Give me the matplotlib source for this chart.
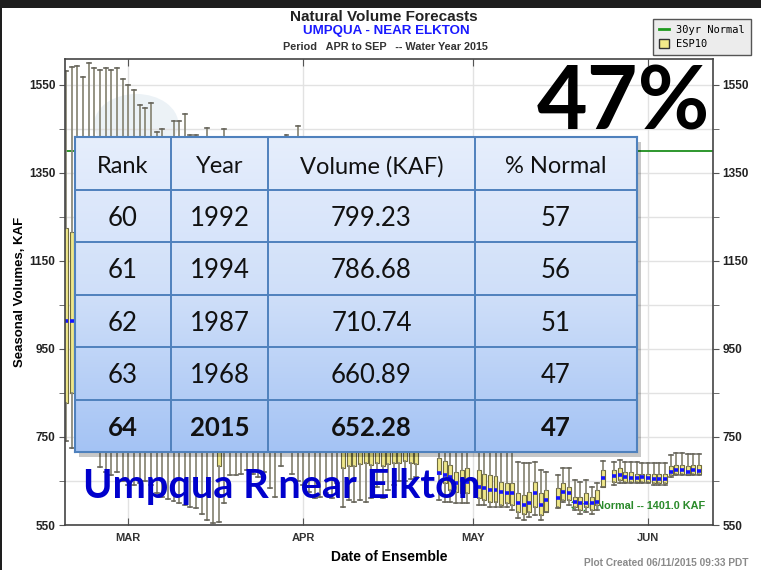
import numpy as np
import pandas as pd
import matplotlib
matplotlib.use('Agg')
import matplotlib.pyplot as plt
import matplotlib.dates as mdates
from matplotlib.lines import Line2D
from matplotlib.patches import Patch, Rectangle, Circle
from matplotlib.colors import LinearSegmentedColormap

# ESP10 daily ensemble forecasts (KAF), first box on 2015-02-18, None = no forecast that day
start_day = '2015-02-18'
hi = [1581, 1590, 1594, 1567, 1601, 1588, 1584, 1588, 1584, 1588,
      1563, 1550, 1539, 1505, 1498, 1508, 1444, 1449, 1425, 1467,
      1467, 1484, 1436, 1436, 1420, 1453, 1410, 1400, 1449, 1390,
      1380, 1370, 1360, 1350, 1340, 1330, 1320, 1300, 1290, 1436,
      1300, 1457, 1280, 1260, 1250, 1240, 1230, 1220, 1200, 1180,
      1160, 1140, 1120, 1100, 1080, 1060, 1040, 1020, 1000, 980,
      960, 940, 920, None, None, None, 900, 880, 860, 840,
      820, 800, None, 770, 760, 760, 750, 750, 740, 740,
      694, 690, 690, 694, 675, 671, None, 664, 679, 679,
      652, 648, 652, 637, 645, 696, None, 694, 698, 694,
      694, 694, 690, 690, 690, 690, 690, 709, 713, 713,
      711, 711, 711]
q3 = [1225, 1216, 1200, 1180, 1160, 1140, 1120, 1100, 1080, 1060,
      1040, 1020, 1000, 990, 980, 970, 960, 950, 940, 930,
      920, 910, 900, 890, 880, 870, 860, 850, 850, 845,
      840, 835, 830, 825, 820, 815, 810, 805, 800, 795,
      790, 785, 780, 775, 770, 765, 760, 755, 750, 745,
      745, 740, 740, 735, 735, 730, 730, 725, 725, 725,
      722, 722, 720, None, None, None, 702, 696, 686, 671,
      675, 679, None, 675, 667, 664, 661, 648, 645, 645,
      622, 618, 626, 648, 622, 630, None, 633, 645, 637,
      614, 614, 622, 614, 630, 675, None, 675, 679, 671,
      671, 667, 667, 667, 667, 667, 667, 683, 686, 686,
      683, 686, 686]
med = [1014, 1014, 1000, 990, 975, 960, 945, 930, 915, 900,
       885, 870, 860, 850, 840, 830, 820, 810, 800, 795,
       790, 785, 780, 775, 770, 765, 760, 755, 780, 775,
       772, 770, 768, 765, 762, 760, 758, 756, 755, 752,
       750, 748, 746, 744, 742, 740, 738, 736, 734, 735,
       735, 733, 732, 730, 730, 728, 728, 726, 725, 725,
       724, 723, 722, None, None, None, 669, 664, 660, 645,
       652, 648, None, 637, 633, 630, 630, 626, 622, 622,
       599, 595, 599, 622, 595, 607, None, 611, 626, 623,
       603, 601, 599, 599, 603, 656, None, 661, 664, 658,
       656, 656, 658, 656, 654, 654, 654, 671, 675, 676,
       671, 675, 673]
q1 = [827, 850, 845, 840, 830, 820, 810, 800, 790, 785,
      780, 775, 770, 765, 760, 755, 750, 748, 745, 742,
      740, 738, 735, 735, 732, 730, 728, 683, 725, 725,
      728, 730, 728, 725, 722, 722, 720, 720, 722, 725,
      725, 722, 720, 720, 720, 720, 720, 720, 720, 680,
      685, 683, 688, 690, 686, 690, 683, 688, 690, 692,
      695, 690, 688, None, None, None, 667, 645, 630, 626,
      622, 622, None, 611, 607, 603, 603, 595, 599, 595,
      580, 576, 580, 592, 573, 580, None, 592, 607, 607,
      592, 584, 592, 584, 595, 637, None, 648, 652, 648,
      648, 648, 648, 648, 645, 645, 645, 664, 667, 667,
      664, 667, 667]
lo = [740, 725, 735, 745, 750, 740, 682, 670, 664, 670,
      650, 640, 640, 645, 650, 640, 622, 614, 610, 605,
      600, 595, 591, 588, 575, 561, 555, 557, 600, 664,
      664, 667, 675, 667, 660, 671, 633, 614, 683, 720,
      667, 650, 640, 625, 611, 614, 622, 611, 645, 592,
      607, 603, 607, 603, 611, 637, 611, 630, 640, 650,
      650, 655, 660, None, None, None, 607, 603, 603, 600,
      599, 599, None, 595, 595, 592, 592, 590, 590, 584,
      565, 561, 569, 573, 561, 580, None, 588, 603, 595,
      584, 576, 580, 576, 584, 637, None, 641, 645, 645,
      645, 645, 645, 645, 642, 642, 642, 660, 664, 664,
      664, 664, 664]
normal = 1401.0

# ranking table
ranks = ['60', '61', '62', '63', '64']
years = ['1992', '1994', '1987', '1968', '2015']
volumes = ['799.23', '786.68', '710.74', '660.89', '652.28']
pct_normal = ['57', '56', '51', '47', '47']
headers = ['Rank', 'Year', 'Volume (KAF)', '% Normal']

W, H = 761, 570
fig = plt.figure(figsize=(W / 100, H / 100), dpi=100)
fig.patch.set_facecolor('#1e1e1e')
fig.patches.append(Rectangle((2 / W, 0), 1, 1 - 8 / H, transform=fig.transFigure,
                             facecolor='white', edgecolor='none', zorder=-1))

ax = fig.add_axes([65 / W, 1 - 525 / H, 648 / W, 466 / H])

# faint agency logo behind the data
ax.add_patch(Circle((0.11, 0.86), 0.065, transform=ax.transAxes, facecolor='#c9dbe8',
                    edgecolor='none', alpha=0.35, zorder=0.3))

dates = pd.date_range(start_day, periods=len(med))
stats, pos = [], []
for d, a, b, c, e, f in zip(mdates.date2num(dates), lo, q1, med, q3, hi):
    if c is None:
        continue
    stats.append(dict(whislo=a, q1=b, med=c, q3=e, whishi=f, fliers=[]))
    pos.append(d)

ax.bxp(stats, positions=pos, widths=0.7, capwidths=0.7, patch_artist=True,
       showfliers=False, manage_ticks=False,
       boxprops=dict(facecolor='#efe78a', edgecolor='#6f6b3e', linewidth=0.8),
       whiskerprops=dict(color='#8c8a7a', linewidth=1.3),
       capprops=dict(color='#66645a', linewidth=1.2),
       medianprops=dict(color='#1414ff', linewidth=2.6, solid_capstyle='butt'))

ax.axhline(normal, color='#1e8f1e', lw=1.3, zorder=1.5)
ax.text(0.988, 0.034, '30yr Normal -- %.1f KAF' % normal, transform=ax.transAxes,
        ha='right', va='baseline', color='#2a8a2a', fontsize=7.8, fontweight='bold',
        family='Liberation Sans', zorder=0.8)

ax.set_xlim(mdates.date2num(pd.Timestamp('2015-02-17 19:00')),
            mdates.date2num(pd.Timestamp('2015-06-12 12:00')))
ax.set_ylim(550, 1609)
ax.set_yticks(range(550, 1551, 200))
ax.set_yticks(range(650, 1551, 200), minor=True)
ax.xaxis.set_major_locator(mdates.MonthLocator())
ax.xaxis.set_major_formatter(plt.FuncFormatter(lambda v, p: mdates.num2date(v).strftime('%b').upper()))
ax.set_axisbelow(True)
ax.grid(axis='y', which='both', color='#e2e2e2', lw=1)
ax.grid(axis='x', which='major', color='#e2e2e2', lw=1)
ax.tick_params(axis='y', which='both', left=True, right=True, labelright=True,
               direction='out', length=4, color='#555', pad=3)
ax.tick_params(axis='x', top=True, direction='in', length=5, color='#555', pad=6)
for lab in ax.get_yticklabels():
    lab.set_fontweight('bold')
    lab.set_fontsize(8.5)
    lab.set_family('Liberation Sans')
    lab.set_color('#222')
for lab in ax.get_xticklabels():
    lab.set_fontweight('bold')
    lab.set_fontsize(8)
    lab.set_family('Liberation Sans')
    lab.set_color('#333')
for side in ax.spines.values():
    side.set_color('#444')
    side.set_linewidth(1.2)
ax.set_ylabel('Seasonal Volumes, KAF', fontsize=9.5, fontweight='bold',
              family='Liberation Sans', labelpad=2)
ax.set_xlabel('Date of Ensemble', fontsize=10, fontweight='bold',
              family='Liberation Sans', labelpad=5)

# titles
fig.text(384 / W, 1 - 17 / H, 'Natural Volume Forecasts', ha='center', va='center',
         fontsize=11, fontweight='bold', family='Liberation Sans', color='#222')
fig.text(386 / W, 1 - 31 / H, 'UMPQUA - NEAR ELKTON', ha='center', va='center',
         fontsize=9.6, fontweight='bold', family='Liberation Sans', color='#1a1aff')
fig.text(385 / W, 1 - 47 / H, 'Period   APR to SEP   -- Water Year 2015', ha='center',
         va='center', fontsize=7.8, fontweight='bold', family='Liberation Sans', color='#333')
fig.text(748 / W, 1 - 563 / H, 'Plot Created 06/11/2015 09:33 PDT', ha='right',
         va='center', fontsize=7.3, fontweight='bold', family='Liberation Sans', color='#8a8a8a')

fig.legend([Line2D([], [], color='#1e9a1e', lw=2),
            Patch(facecolor='#f3ea8a', edgecolor='#333')],
           ['30yr Normal', 'ESP10'], loc='upper right',
           bbox_to_anchor=(756 / W, 1 - 14 / H), prop={'family': 'DejaVu Sans Mono', 'size': 7.5},
           frameon=True, fancybox=False, edgecolor='#555', facecolor='#ececec',
           framealpha=1, handlelength=1.0, handleheight=0.9, borderpad=0.55,
           labelspacing=0.4, handletextpad=0.7)

# big percent label
fig.text(710 / W, 1 - 130 / H, pct_normal[-1] + '%', ha='right', va='baseline',
         fontsize=63, fontweight='bold', family='Lato', color='black')

# ranking table overlay
tx0, ty0, tx1, ty1 = 75, 137, 637, 452
fig.patches.append(Rectangle(((tx0 + 4) / W, 1 - (ty1 + 5) / H), (tx1 - tx0) / W, (ty1 - ty0) / H,
                             transform=fig.transFigure, facecolor='#000000', alpha=0.22,
                             edgecolor='none', zorder=1))
tax = fig.add_axes([tx0 / W, 1 - ty1 / H, (tx1 - tx0) / W, (ty1 - ty0) / H], zorder=2)
cmap = LinearSegmentedColormap.from_list('tbl', ['#e6eefc', '#cfdff9', '#a4c3f4'])
tax.imshow(np.linspace(0, 1, 256)[:, None], aspect='auto', cmap=cmap, extent=(0, 1, 6, 0))
tax.set_xlim(0, 1)
tax.set_ylim(6, 0)
tax.set_xticks([])
tax.set_yticks([])
for side in tax.spines.values():
    side.set_color('#4f81bd')
    side.set_linewidth(1.5)
col_edges = [0, 0.1708, 0.3434, 0.7117, 1.0]
for xe in col_edges[1:-1]:
    tax.axvline(xe, color='#4f81bd', lw=1.4)
for r in range(1, 6):
    tax.axhline(r, color='#4f81bd', lw=1.4)
rows = [headers] + [list(t) for t in zip(ranks, years, volumes, pct_normal)]
for r, row in enumerate(rows):
    for c, s in enumerate(row):
        xc = (col_edges[c] + col_edges[c + 1]) / 2
        tax.text(xc, r + 0.69, s, ha='center', va='baseline', family='Lato',
                 fontsize=17 if r == 0 else 18.5,
                 fontweight='bold' if r == len(rows) - 1 else 'normal', color='#111')

fig.text(83 / W, 1 - 498 / H, 'Umpqua R near Elkton', ha='left', va='baseline',
         fontsize=28.6, fontweight='bold', family='Lato', color='#0000cc')

fig.savefig('out.png', dpi=100, facecolor=fig.get_facecolor())
